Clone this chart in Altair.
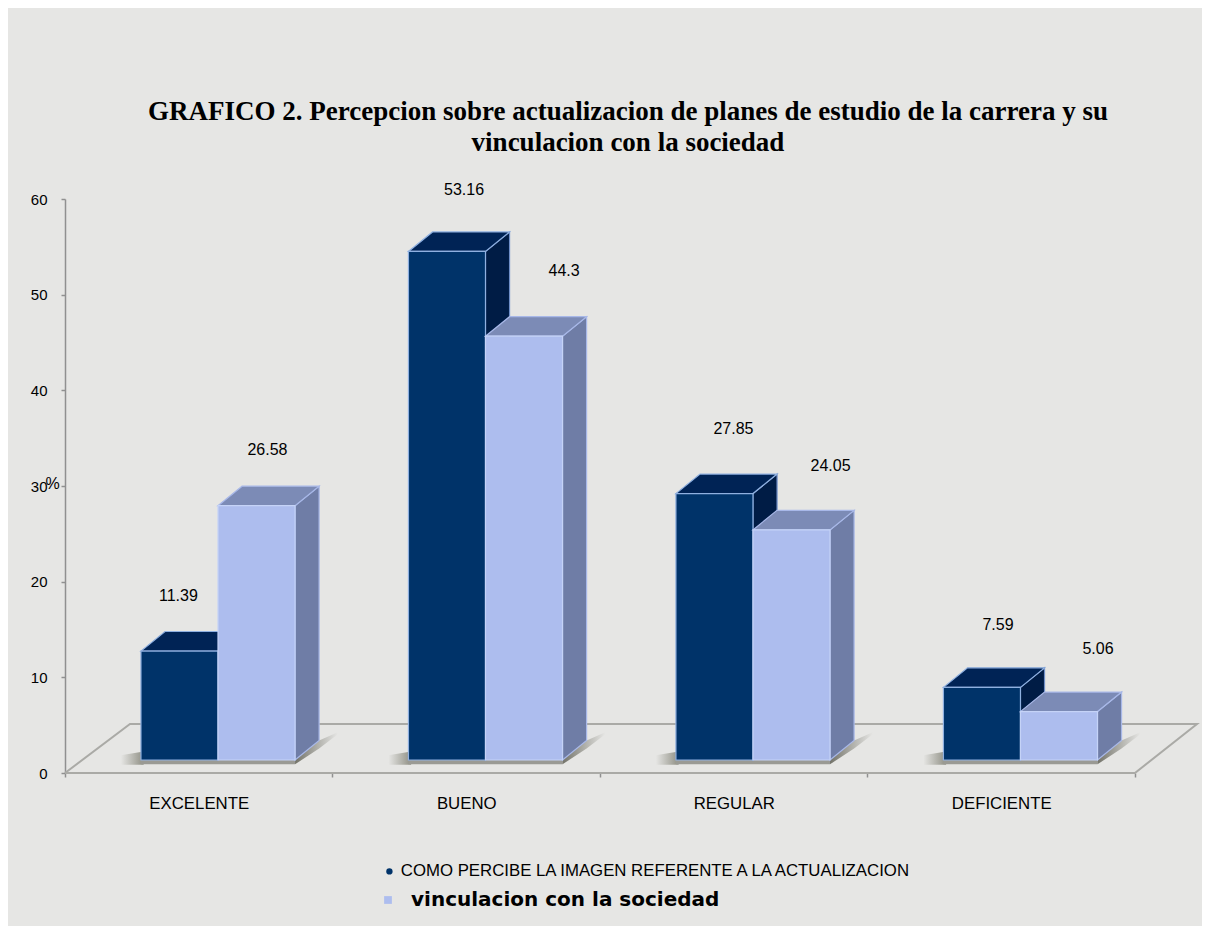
import json
import altair as alt
import pandas as pd

categories = ["EXCELENTE", "BUENO", "REGULAR", "DEFICIENTE"]
serie_a = "COMO PERCIBE LA IMAGEN  REFERENTE A LA ACTUALIZACION"
serie_b = "vinculacion con la sociedad"
values_a = [11.39, 53.16, 27.85, 7.59]
values_b = [26.58, 44.3, 24.05, 5.06]
y_ticks = [0, 10, 20, 30, 40, 50, 60]

# hand placement of the value labels
label_dx_a = [-0.004, 0.064, 0.071, 0.06]
label_dx_b = [0.041, 0.15, 0.146, 0.146]
label_dy_a = [5.75, 6.4, 6.7, 6.5]
label_dy_b = [5.85, 6.8, 6.7, 6.5]

BASE = 1.36      # floor level of the bars' front edge, in value units
DEPTH_X = 0.09   # 3D depth in category units
DEPTH_Y = 2.04   # 3D depth in value units
LEFT = 0.284
BAR_W = 0.288
X_MAX = 4.232
BG = "#e6e6e4"


def rows(cat, face, pts):
    return [dict(cat=cat, face=face, x=p[0], y=p[1], y2=p[2]) for p in pts]


def bar_faces(values, shift):
    front, top, side = [], [], []
    for i, v in enumerate(values):
        x0 = i + LEFT + shift
        x1 = x0 + BAR_W
        t = v + BASE
        front += rows(i, "front", [(x0, BASE, t), (x1, BASE, t)])
        top += rows(i, "top", [(x0, t, t), (x0 + DEPTH_X, t, t + DEPTH_Y),
                               (x1, t, t + DEPTH_Y), (x1 + DEPTH_X, t + DEPTH_Y, t + DEPTH_Y)])
        side += rows(i, "side", [(x1, BASE, t), (x1 + DEPTH_X, BASE + DEPTH_Y, t + DEPTH_Y)])
    return pd.DataFrame(front), pd.DataFrame(top), pd.DataFrame(side)


front_a, top_a, side_a = bar_faces(values_a, 0)
front_b, top_b, side_b = bar_faces(values_b, BAR_W)
front_a["serie"] = serie_a
front_b["serie"] = serie_b

x_enc = alt.X("x:Q", scale=alt.Scale(domain=[0, X_MAX], nice=False, zero=False),
              axis=alt.Axis(values=[k / 2 for k in range(9)], title=None, domain=False, grid=False,
                            tickSize=4, tickColor="#909090", tickWidth=1.5,
                            tickOpacity={"condition": {"test": "datum.value % 1 == 0", "value": 1}, "value": 0},
                            labelExpr="datum.value % 1 == 0 ? '' : " + json.dumps(categories) + "[floor(datum.value)]",
                            labelFont="Liberation Sans", labelFontSize=16.8, labelColor="#000000",
                            labelPadding=18, labelOverlap=False, labelFlush=False, labelBound=False))
y_enc = alt.Y("y:Q", stack=None, scale=alt.Scale(domain=[0, 60], nice=False),
              axis=alt.Axis(values=y_ticks, title="%", titleAngle=0, titleX=-13, titleY=292,
                            titleFont="Liberation Sans", titleFontSize=16, titleFontWeight="normal",
                            titleColor="#000000",
                            grid=False, domainColor="#909090", domainWidth=1.5, tickColor="#909090",
                            tickWidth=1.5, tickSize=4, labelPadding=14,
                            labelFont="Liberation Sans", labelFontSize=15, labelColor="#000000"))
y2_enc = alt.Y2("y2:Q")

# floor
floor_df = pd.DataFrame({
    "x": [0, 4.0, X_MAX, 0.243, 0],
    "y": [0, 0, 5.12, 5.12, 0],
    "o": [0, 1, 2, 3, 4],
})
floor = alt.Chart(floor_df).mark_line(color="#aaaaa6", strokeWidth=2).encode(
    x=x_enc, y=y_enc, order="o:Q")

# soft shadows at the foot of the bars
left_rows, strip_rows, side_rows = [], [], []
for i in range(len(categories)):
    xl = i + LEFT
    xr = xl + 2 * BAR_W
    left_rows += rows(i, "l", [(xl - 0.075, BASE - 0.5, BASE + 0.5), (xl + 0.01, BASE - 0.5, BASE + 0.9)])
    strip_rows += rows(i, "s", [(xl, BASE - 0.45, BASE), (xr, BASE - 0.45, BASE)])
    side_rows += rows(i, "b", [(xr, BASE - 0.45, BASE + 0.5), (xr + DEPTH_X, BASE + 1.2, BASE + DEPTH_Y),
                               (xr + 0.16, BASE + 2.7, BASE + 2.9)])


def gradient(a, b):
    return alt.LinearGradient(gradient="linear", x1=0, y1=0, x2=1, y2=0,
                              stops=[alt.GradientStop(color=a, offset=0),
                                     alt.GradientStop(color=b, offset=1)])


def shadow(rows_list, fill):
    return alt.Chart(pd.DataFrame(rows_list)).mark_area(color=fill).encode(
        x=x_enc, y=y_enc, y2=y2_enc, detail="cat:N")


shadow_left = shadow(left_rows, gradient(BG, "#8f8f84"))
shadow_strip = shadow(strip_rows, "#9a9a94")
shadow_side = shadow(side_rows, gradient("#74746a", BG))


def face(df, fill, edge):
    return alt.Chart(df).mark_area(color=fill, stroke=edge, strokeWidth=1.2).encode(
        x=x_enc, y=y_enc, y2=y2_enc, detail="cat:N")


legend_a = alt.Legend(title=None, orient="none", legendX=316, legendY=664, symbolType="circle",
                      symbolSize=40, symbolStrokeWidth=0, labelFont="Liberation Sans", labelFontSize=16.8,
                      labelColor="#000000", labelOffset=3, labelLimit=700)
legend_b = alt.Legend(title=None, orient="none", legendX=313, legendY=691, symbolType="square",
                      symbolSize=60, symbolFillColor="#ccd3ee", symbolStrokeWidth=0,
                      labelFont="DejaVu Sans", labelFontWeight="bold", labelFontSize=20,
                      labelColor="#000000", labelOffset=13, labelLimit=700)

front_dark = alt.Chart(front_a).mark_area(stroke="#8fb0e0", strokeWidth=1.2).encode(
    x=x_enc, y=y_enc, y2=y2_enc, detail="cat:N",
    fill=alt.Fill("serie:N", scale=alt.Scale(domain=[serie_a], range=["#003369"]), legend=legend_a))
front_light = alt.Chart(front_b).mark_area(fill="#adbdee", strokeWidth=1.2).encode(
    x=x_enc, y=y_enc, y2=y2_enc, detail="cat:N",
    stroke=alt.Stroke("serie:N", scale=alt.Scale(domain=[serie_b], range=["#c5d3f7"]), legend=legend_b))

# value labels
labels_df = pd.DataFrame({
    "x": [i + LEFT + BAR_W / 2 + d for i, d in enumerate(label_dx_a)]
         + [i + LEFT + 1.5 * BAR_W + d for i, d in enumerate(label_dx_b)],
    "y": [v + BASE + d for v, d in zip(values_a, label_dy_a)]
         + [v + BASE + d for v, d in zip(values_b, label_dy_b)],
    "t": [str(v) for v in values_a + values_b],
})
labels = alt.Chart(labels_df).mark_text(font="Liberation Sans", fontSize=16, color="#000000",
                                        baseline="middle").encode(x=x_enc, y=y_enc, text="t:N")

chart = alt.layer(
    floor, shadow_left, shadow_strip, shadow_side,
    face(side_a, "#001c45", "#6f8fc8"), face(top_a, "#002355", "#8fb0e0"), front_dark,
    face(side_b, "#6f7da6", "#a8b8e8"), face(top_b, "#7c8bb6", "#a8b8e8"), front_light,
    labels,
).resolve_legend(fill="independent", stroke="independent").properties(
    width=1132,
    height=574,
    padding={"left": 57, "top": 191, "right": 5, "bottom": 153},
    autosize=alt.AutoSizeParams(type="none"),
    background=BG,
    title=alt.TitleParams(
        text=["GRAFICO 2.  Percepcion sobre actualizacion de planes de estudio de la carrera y su",
              "vinculacion con la sociedad"],
        font="Liberation Serif", fontSize=27, fontWeight="bold", color="#000000",
        lineHeight=31, anchor="middle", dx=-3, offset=25),
).configure_view(stroke=None)

chart.save("out.html", embed_options={"renderer": "svg", "actions": False})
